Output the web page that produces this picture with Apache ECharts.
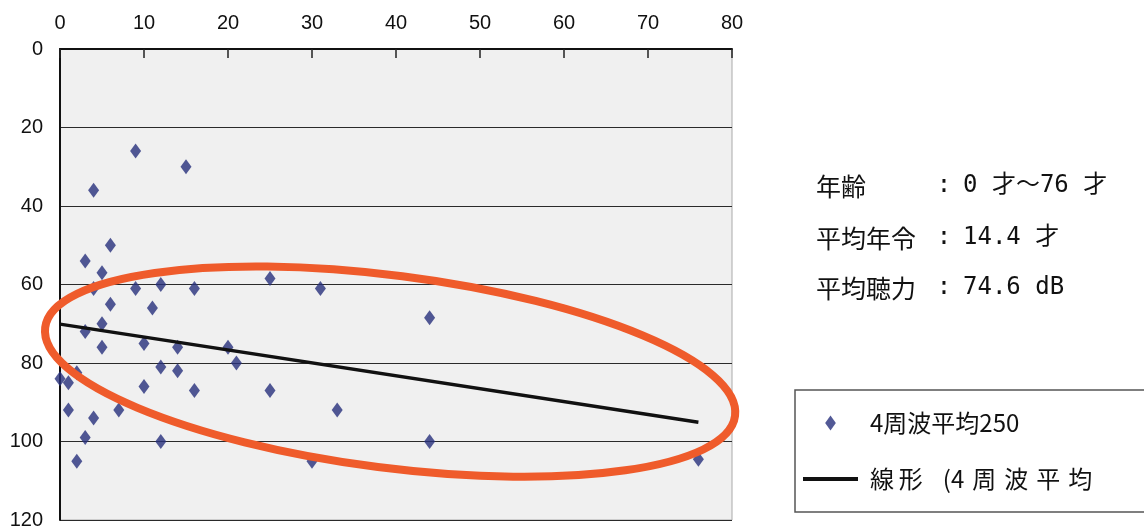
<!DOCTYPE html>
<html><head><meta charset="utf-8">
<script src="https://cdn.jsdelivr.net/npm/echarts@6/dist/echarts.min.js"></script>
<style>html,body{margin:0;padding:0;background:#fff}#c{width:1144px;height:531px}</style>
</head><body><div id="c"></div>
<script>
// ---- data ----
const ageX      = [9, 15, 4, 6, 3, 5, 4, 9, 12, 16, 25, 31, 6, 11, 5, 3, 5, 10, 14, 20, 21, 12, 14, 0, 1, 2, 10, 16, 25, 33, 1, 7, 4, 3, 12, 2, 30, 44, 44, 76];
const hearingY  = [26, 30, 36, 50, 54, 57, 61, 61, 60, 61, 58.5, 61, 65, 66, 70, 72, 76, 75, 76, 76, 80, 81, 82, 84, 85, 82.5, 86, 87, 87, 92, 92, 92, 94, 99, 100, 105, 105, 68.5, 100, 104.5];
const trendX    = [0, 76];
const trendY    = [70.1, 95.1];
const xTickVals = [0, 10, 20, 30, 40, 50, 60, 70, 80];
const yTickVals = [0, 20, 40, 60, 80, 100, 120];
const scatterName = '4周波平均250';
const trendName   = '線形 (4 周波平均';
const infoLabels  = ['年齢', '平均年令', '平均聴力'];
const infoValues  = ['0 才～76 才', '14.4 才', '74.6 dB'];
// hand-drawn annotation ellipse (data units)
const ellipseCenter = [39.3, 82.2];
const ellipseHalf   = [41.4, 24.5];

const chart = echarts.init(document.getElementById('c'), null, {renderer: 'canvas'});
const axisFont = 'Liberation Sans, Arial, sans-serif';
const jpFont = "'Noto Sans CJK JP', sans-serif";
const trendLegendText = '線\u2009形\u2002\u2004(4\u2004周\u2004波\u2004平\u2004均';

chart.setOption({
  animation: false,
  backgroundColor: '#ffffff',
  grid: {left: 60, right: 412, top: 49, bottom: 11, show: true,
         backgroundColor: '#f0f0f0', borderColor: '#aaaaaa', borderWidth: 1},
  xAxis: {
    type: 'value', position: 'top', min: xTickVals[0], max: xTickVals[xTickVals.length-1], interval: 10,
    axisLine: {show: true, lineStyle: {color: '#111', width: 2}},
    axisTick: {show: true, inside: true, length: 9, lineStyle: {color: '#222', width: 1.5}},
    axisLabel: {margin: 16, fontSize: 20, color: '#111', fontFamily: axisFont},
    splitLine: {show: false}
  },
  yAxis: {
    type: 'value', inverse: true, min: yTickVals[0], max: yTickVals[yTickVals.length-1], interval: 20,
    axisLine: {show: true, lineStyle: {color: '#111', width: 2}},
    axisTick: {show: false},
    axisLabel: {margin: 17, fontSize: 20, color: '#111', fontFamily: axisFont},
    splitLine: {show: true, lineStyle: {color: '#2a2a2a', width: 1}}
  },
  legend: {
    orient: 'vertical', left: 795, top: 390,
    padding: [21, 80, 21, 8],
    borderColor: '#555', borderWidth: 1.5, backgroundColor: '#fff',
    itemWidth: 55, itemHeight: 15, itemGap: 32,
    symbolKeepAspect: true,
    textStyle: {fontSize: 24, color: '#111', fontFamily: jpFont, lineHeight: 24, padding: [0, 0, 0, 7]},
    formatter: function (n) { return n === trendName ? trendLegendText : n; },
    data: [
      {name: scatterName, icon: 'path://M5,0 L10,7 L5,14 L0,7 Z'},
      {name: trendName, icon: 'path://M0,0 H100 V7 H0 Z'}
    ]
  },
  series: [
    {
      name: scatterName, type: 'scatter', symbol: 'diamond', symbolSize: [11, 15],
      itemStyle: {color: '#27307c'},
      data: ageX.map((x, i) => [x, hearingY[i]]), z: 2
    },
    {
      name: trendName, type: 'line', symbol: 'none', showSymbol: false,
      itemStyle: {color: '#111'},
      lineStyle: {color: '#111', width: 3.5},
      data: trendX.map((x, i) => [x, trendY[i]]), z: 3
    }
  ]
});

const c0 = chart.convertToPixel({gridIndex: 0}, ellipseCenter);
const p1 = chart.convertToPixel({gridIndex: 0}, [ellipseCenter[0] + ellipseHalf[0], ellipseCenter[1] + ellipseHalf[1]]);
const rx = Math.abs(p1[0] - c0[0]);
const ry = Math.abs(p1[1] - c0[1]);

const lineYs = [186, 238, 288];
const graphics = [{
  type: 'ellipse', x: c0[0], y: c0[1], rotation: -7.3 * Math.PI / 180, z: 100,
  shape: {cx: 0, cy: 0, rx: rx, ry: ry},
  style: {fill: null, stroke: '#ef5b2b', lineWidth: 8}
}];
infoLabels.forEach((t, i) => {
  graphics.push({type: 'text', x: 816, y: lineYs[i], z: 50,
    style: {text: t, fontSize: 25, fontFamily: jpFont, fill: '#111', verticalAlign: 'middle', align: 'left'}});
  graphics.push({type: 'text', x: 944, y: lineYs[i], z: 50,
    style: {text: ':', fontSize: 24, fontFamily: "'DejaVu Sans Mono', monospace", fill: '#111', verticalAlign: 'middle', align: 'center'}});
  graphics.push({type: 'text', x: 963, y: lineYs[i], z: 50,
    style: {text: infoValues[i], fontSize: 24, fontFamily: "'DejaVu Sans Mono', 'Noto Sans CJK JP', monospace", fill: '#111', verticalAlign: 'middle', align: 'left'}});
});
chart.setOption({graphic: graphics});
</script></body></html>
